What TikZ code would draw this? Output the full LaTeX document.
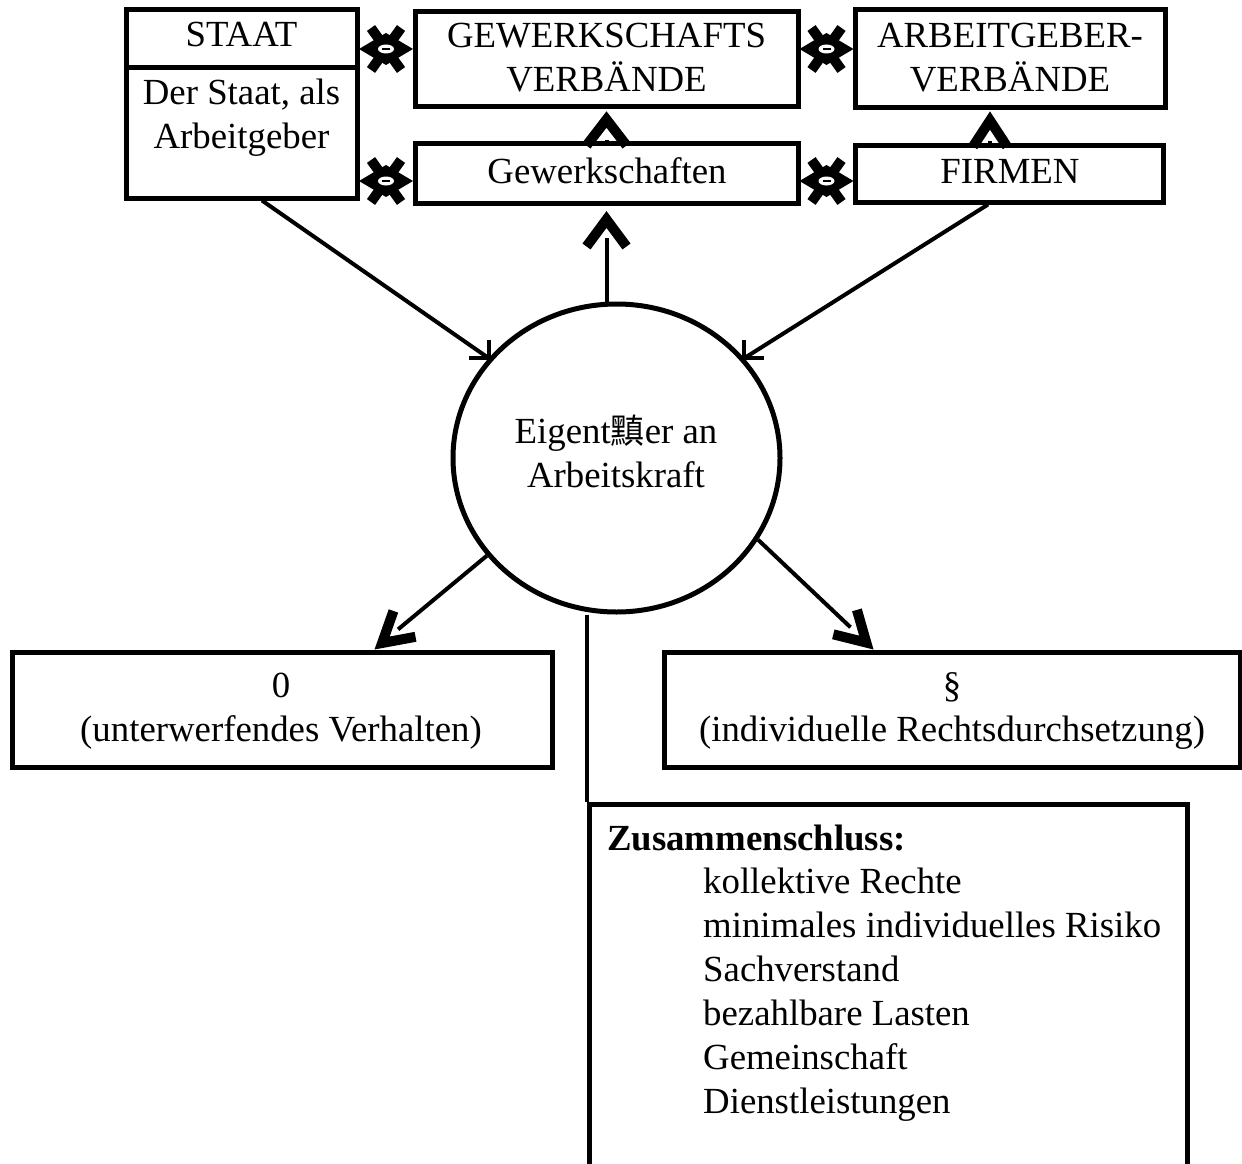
\documentclass[tikz,border=0pt]{standalone}
\usepackage{fontspec}
\setmainfont{Liberation Serif}
\newfontfamily\cjk{Noto Sans CJK SC}
\usetikzlibrary{shapes.geometric,calc}
\begin{document}
\begin{tikzpicture}[x=1pt,y=1pt,
  box/.style={draw, line width=5pt, inner sep=0pt},
  txt/.style={font=\fontsize{36.8}{44}\selectfont, inner sep=0pt, align=center, anchor=base},
  conn/.style={line width=4pt},
  chev/.style={line width=10pt, line join=miter, miter limit=10},
  dmx/.pic={
    \fill (-27,0) -- (0,16) -- (27,0) -- (0,-16) -- cycle;
    \draw[line width=10pt] (-15,21) -- (15,-21) (-15,-21) -- (15,21);
    \fill[white] (0,0) ellipse [x radius=8pt, y radius=4.5pt];
    \fill (-4,-1.2) rectangle (4,1.2);
  }]
\useasboundingbox (0,0) rectangle (1242,-1164);
\clip (0,0) rectangle (1242,-1164);

% boxes
\node[box, minimum width=231pt, minimum height=188pt] (staat) at (241.5,-104) {};
\draw[line width=5pt] (staat.west |- 0,-68) -- (staat.east |- 0,-68);
\node[box, minimum width=383pt, minimum height=94pt] (gewv) at (606.5,-59) {};
\node[box, minimum width=383pt, minimum height=60pt] (gew) at (606.5,-173) {};
\node[box, minimum width=310pt, minimum height=97pt] (agv) at (1010,-58.5) {};
\node[box, minimum width=308pt, minimum height=57pt] (firm) at (1009,-173.5) {};
\node[box, minimum width=540pt, minimum height=115pt] (sub) at (282,-709.5) {};
\node[box, minimum width=576pt, minimum height=115pt] (law) at (952,-709.5) {};
\node[box, minimum width=598pt, minimum height=500pt, anchor=north west] (zus) at (587,-802) {};
\node[ellipse, draw, line width=5pt, inner sep=0pt, minimum width=327pt, minimum height=308pt] (own) at (616.5,-458) {};

% texts (base anchor of a multi-line node = baseline of its last line)
\node[txt] (tstaat) at (241.5,-47) {STAAT};
\node[txt] (tstaat2) at (241.5,-148) {Der Staat, als\\Arbeitgeber};
\node[txt] (tgewv) at (606.5,-92) {GEWERKSCHAFTS\\VERBÄNDE};
\node[txt] (tagv) at (1010,-92) {ARBEITGEBER-\\VERBÄNDE};
\node[txt] (tgew) at (607,-183) {Gewerkschaften};
\node[txt] (tfirm) at (1010,-183) {FIRMEN};
\node[txt] (town) at (616,-487) {Eigent{\cjk\fontsize{34}{44}\selectfont 黰}er an\\Arbeitskraft};
\node[txt] (tsub) at (281,-741) {0\\(unterwerfendes Verhalten)};
\node[txt] (tlaw) at (952,-741) {§\\(individuelle Rechtsdurchsetzung)};
\node[txt, anchor=base west, font=\fontsize{36.8}{44}\selectfont\bfseries] (tzus) at (607,-850) {Zusammenschluss:};
\node[txt, anchor=base west, align=left] (tzl) at (703,-1113) {kollektive Rechte\\minimales individuelles Risiko\\Sachverstand\\bezahlbare Lasten\\Gemeinschaft\\Dienstleistungen};

% diamond connectors
\path ($(staat.east |- 0,-49)!0.5!(gewv.west |- 0,-49)$) pic {dmx};
\path ($(staat.east |- 0,-181)!0.5!(gew.west |- 0,-181)$) pic {dmx};
\path ($(gewv.east |- 0,-49)!0.5!(agv.west |- 0,-49)$) pic {dmx};
\path ($(gew.east |- 0,-181)!0.5!(firm.west |- 0,-181)$) pic {dmx};

% upward chevrons between box rows
\draw[chev] ($(gewv.south)+(-20,-37)$) -- ($(gewv.south)+(0,-11)$) -- ($(gewv.south)+(20,-37)$);
\fill ($(gewv.south)+(-2,-31)$) rectangle ++(4,-4);
\draw[chev] ($(agv.south)+(-37,-37)$) -- ($(agv.south)+(-20,-11)$) -- ($(agv.south)+(-3,-37)$);
\fill ($(agv.south)+(-22,-31)$) rectangle ++(4,-4);

% STAAT -> own, FIRMEN -> own
\draw[conn] ($(staat.south)+(20.5,0)$) -- (own.142);
\draw[conn] (own.142) -- ++(-20,0) (own.142) -- ++(0,18);
\draw[conn] ($(firm.south)+(-21,0)$) -- (own.38);
\draw[conn] (own.38) -- ++(20,0) (own.38) -- ++(0,18);

% own -> Gewerkschaften
\draw[conn] (gew.south |- own.north) -- ($(gew.south)+(0,-32)$);
\draw[chev] ($(gew.south)+(-20,-41)$) -- ($(gew.south)+(0,-14)$) -- ($(gew.south)+(20,-41)$);

% own -> lower boxes
\coordinate (tl) at ($(sub.north west)+(365,0)$);
\coordinate (al) at ($(tl)+(40.5:10)$);
\draw[conn] (own.217) -- ($(tl)+(40.5:31)$);
\draw[chev] ($(al)+(70.5:34)$) -- (al) -- ($(al)+(10.5:34)$);
\coordinate (tr) at ($(law.north west)+(212,0)$);
\coordinate (ar) at ($(tr)+(136:10)$);
\draw[conn] (own.330) -- ($(tr)+(136:32)$);
\draw[chev] ($(ar)+(166:34)$) -- (ar) -- ($(ar)+(106:34)$);

% own -> Zusammenschluss
\draw[conn] (zus.north west |- own.south) -- (zus.north west);
\end{tikzpicture}
\end{document}
